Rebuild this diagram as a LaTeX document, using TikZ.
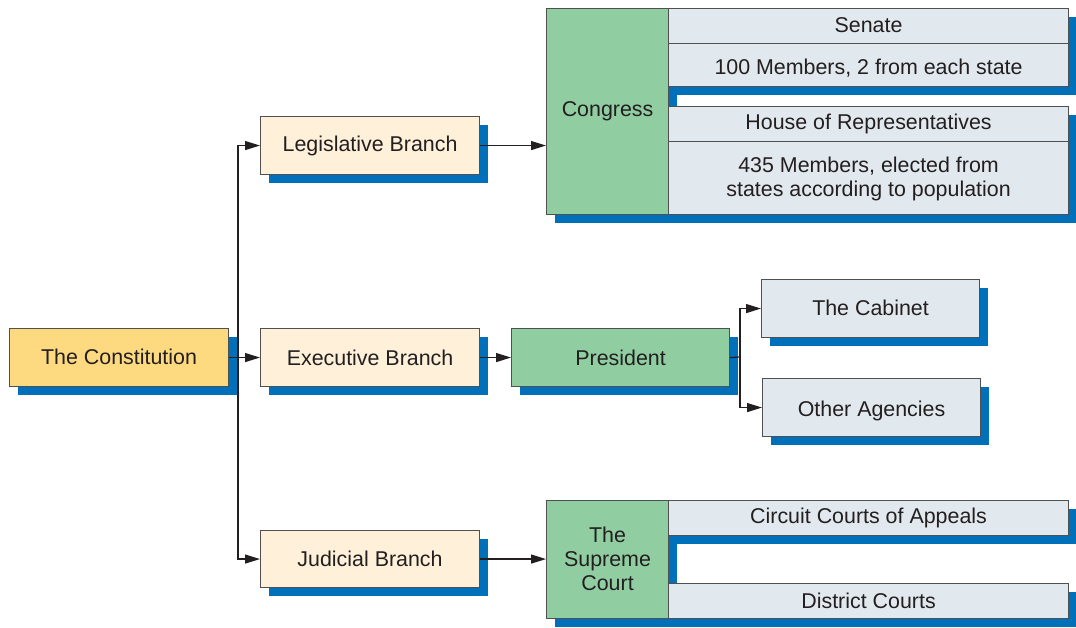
\documentclass[tikz,border=0pt]{standalone}
\usepackage{fontspec}
\setmainfont{Liberation Sans}
\usetikzlibrary{arrows.meta,shadows}
\definecolor{shblue}{HTML}{0070BA}
\definecolor{bordergray}{HTML}{505050}
\definecolor{txt}{HTML}{231F20}
\definecolor{yel}{HTML}{FDD980}
\definecolor{cream}{HTML}{FFF1D9}
\definecolor{grn}{HTML}{90CEA2}
\definecolor{lblue}{HTML}{E1E8EE}
\tikzset{
  box/.style={draw=bordergray, line width=1.1pt, anchor=north west, inner sep=0pt,
    text=txt, align=center,
    general shadow={fill=shblue, shadow xshift=8pt, shadow yshift=-8pt}},
  conn/.style={draw=txt, line width=1.2pt},
  arr/.style={conn, -{Triangle[length=15pt,width=9pt]}}
}
\newcommand\dn[2]{\raisebox{-#1pt}[\height][\depth]{#2}}
\begin{document}
\begin{tikzpicture}[x=1pt,y=-1pt,font=\fontsize{21.4}{24}\selectfont]
\useasboundingbox (0,0) rectangle (1076,628);
\node[box, fill=yel, minimum width=219pt, minimum height=58pt] (const) at (9,328) {\dn{-1}{The Constitution}};
\node[box, fill=cream, minimum width=219pt, minimum height=58pt] (leg) at (260,116) {Legislative Branch};
\node[box, fill=cream, minimum width=219pt, minimum height=58pt] (exec) at (260,328) {Executive Branch};
\node[box, fill=cream, minimum width=219pt, minimum height=57pt] (jud) at (260,530) {Judicial Branch};
\node[box, fill=grn, minimum width=122pt, minimum height=206pt] (cong) at (546,8) {Congress};
\node[box, fill=lblue, minimum width=400pt, minimum height=35pt] (sen) at (668,8) {\dn{-1}{Senate}};
\node[box, fill=lblue, minimum width=400pt, minimum height=43pt] (senm) at (668,43) {\dn{3}{100 Members, 2 from each state}};
\node[box, fill=lblue, minimum width=400pt, minimum height=35pt] (house) at (668,106) {House of Representatives};
\node[box, fill=lblue, minimum width=400pt, minimum height=73pt] (housem) at (668,141) {\dn{2}{\begin{tabular}{@{}c@{}}435 Members, elected from\\states according to population\end{tabular}}};
\node[box, fill=grn, minimum width=218pt, minimum height=58pt] (pres) at (511,328) {President};
\node[box, fill=lblue, minimum width=218pt, minimum height=58pt] (cab) at (761,279) {\dn{-1}{The Cabinet}};
\node[box, fill=lblue, minimum width=218pt, minimum height=58pt] (oth) at (762,378) {\dn{3}{Other Agencies}};
\node[box, fill=grn, minimum width=122pt, minimum height=118pt] (sc) at (546,500) {\dn{2}{\begin{tabular}{@{}c@{}}The\\Supreme\\Court\end{tabular}}};
\node[box, fill=lblue, minimum width=400pt, minimum height=35pt] (cca) at (668,500) {Circuit Courts of Appeals};
\node[box, fill=lblue, minimum width=400pt, minimum height=35pt] (dc) at (668,583) {District Courts};
% connectors
\coordinate (jc) at (238,357);
\coordinate (pj) at (740,357);
\draw[arr] (const.east) -- (exec.west);
\draw[arr] (jc) |- (leg.west);
\draw[arr] (jc) |- (jud.west);
\draw[arr] (leg.east) -- (leg.east -| cong.west);
\draw[arr] (exec.east) -- (pres.west);
\draw[arr] (jud.east) -- (jud.east -| sc.west);
\draw[conn] (pres.east) -- (pj);
\draw[arr] (pj) |- (cab.west);
\draw[arr] (pj) |- (oth.west);
\end{tikzpicture}
\end{document}
